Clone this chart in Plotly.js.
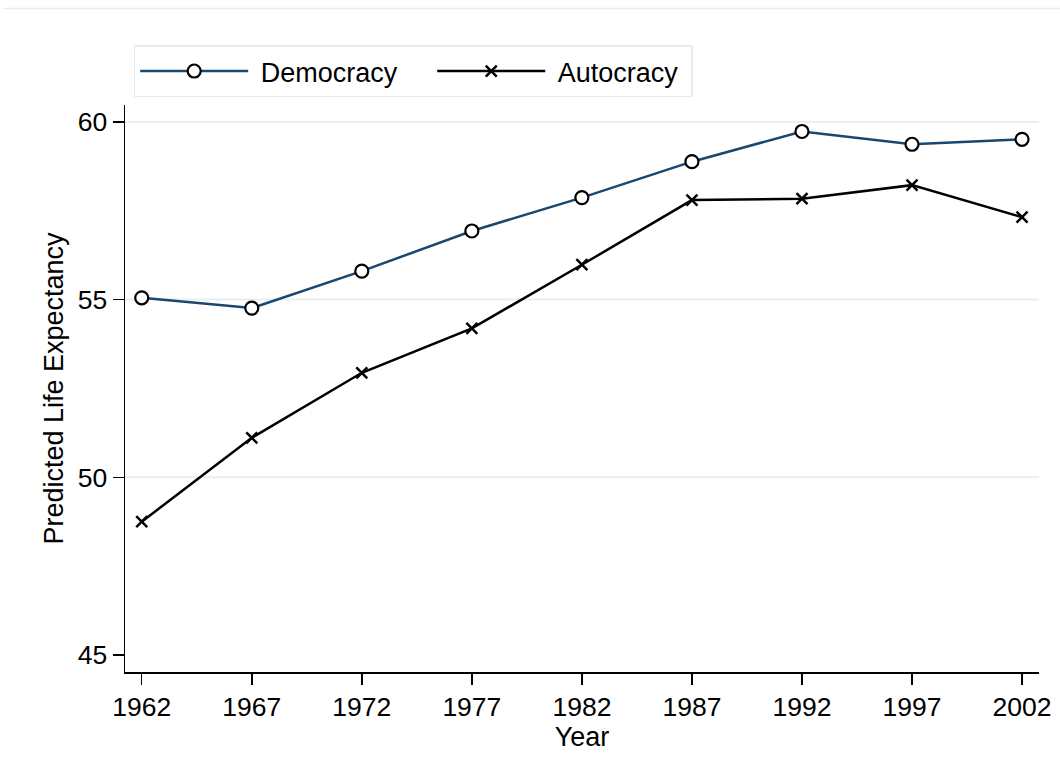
<!DOCTYPE html>
<html>
<head>
<meta charset="utf-8">
<script src="https://cdn.plot.ly/plotly-3.0.1.min.js"></script>
<style>
  html, body { margin: 0; padding: 0; background: #ffffff; }
  #chart { width: 1060px; height: 774px; }
</style>
</head>
<body>
<div id="chart"></div>
<script>
// Data
const years = [1962, 1967, 1972, 1977, 1982, 1987, 1992, 1997, 2002];
const democracy = [55.05, 54.76, 55.80, 56.93, 57.87, 58.88, 59.73, 59.37, 59.51];
const autocracy = [48.75, 51.11, 52.94, 54.19, 55.98, 57.80, 57.84, 58.22, 57.32];
const yTicks = [45, 50, 55, 60];
const gridVals = [50, 55, 60];
const seriesNames = ["Democracy", "Autocracy"];

const FONT = "Liberation Sans, Arial, Helvetica, sans-serif";
const NB = "\u00a0";

const traces = [
  {
    x: years, y: democracy, name: NB + seriesNames[0] + NB + NB + NB + NB,
    type: "scatter", mode: "lines+markers",
    line: { color: "#1a476f", width: 2.5 },
    marker: { symbol: "circle", size: 13, color: "#ffffff", line: { color: "#000000", width: 2.2 } }
  },
  {
    x: years, y: autocracy, name: NB + seriesNames[1] + NB,
    type: "scatter", mode: "lines+markers",
    line: { color: "#000000", width: 2.5 },
    marker: { symbol: "x-thin", size: 11, color: "#000000", line: { color: "#000000", width: 2.5 } }
  }
];

const shapes = gridVals.map(v => ({
  type: "line", xref: "paper", yref: "y", x0: 0, x1: 1, y0: v, y1: v,
  line: { color: "#e6eff1", width: 2 }, layer: "below"
}));
shapes.push({
  type: "line", xref: "paper", yref: "paper", x0: -0.133, x1: 1.03, y0: 1.170, y1: 1.170,
  line: { color: "#e3eeee", width: 1.5 }
});

const layout = {
  width: 1060, height: 774,
  paper_bgcolor: "#ffffff", plot_bgcolor: "#ffffff",
  margin: { l: 125, r: 21, t: 105, b: 102 },
  font: { family: FONT, size: 26, color: "#000000" },
  showlegend: true,
  legend: {
    orientation: "h", x: 0.0095, y: 1.105, xanchor: "left", yanchor: "top",
    bordercolor: "#e3eeee", borderwidth: 1.5, bgcolor: "#ffffff",
    font: { family: FONT, size: 27, color: "#000000" },
    itemwidth: 108, tracegroupgap: 0
  },
  xaxis: {
    range: [1961.24, 2002.77],
    tickmode: "array", tickvals: years, ticktext: years.map(String),
    ticks: "outside", ticklen: 11, tickwidth: 1.5, tickcolor: "#000000",
    showline: true, linecolor: "#000000", linewidth: 1.5,
    showgrid: false, zeroline: false,
    tickfont: { family: FONT, size: 26.5, color: "#000000" },
    title: { text: "Year", font: { family: FONT, size: 27, color: "#000000" }, standoff: 0 }
  },
  yaxis: {
    range: [44.52, 60.475],
    tickmode: "array", tickvals: yTicks, ticktext: yTicks.map(String),
    ticks: "outside", ticklen: 11, tickwidth: 1.5, tickcolor: "#000000",
    showline: true, linecolor: "#000000", linewidth: 1.5,
    showgrid: false, zeroline: false,
    tickfont: { family: FONT, size: 26.5, color: "#000000" },
    title: { text: "Predicted Life Expectancy", font: { family: FONT, size: 27, color: "#000000" }, standoff: 6 }
  },
  shapes: shapes
};

Plotly.newPlot("chart", traces, layout, { displayModeBar: false, staticPlot: true });
</script>
</body>
</html>
